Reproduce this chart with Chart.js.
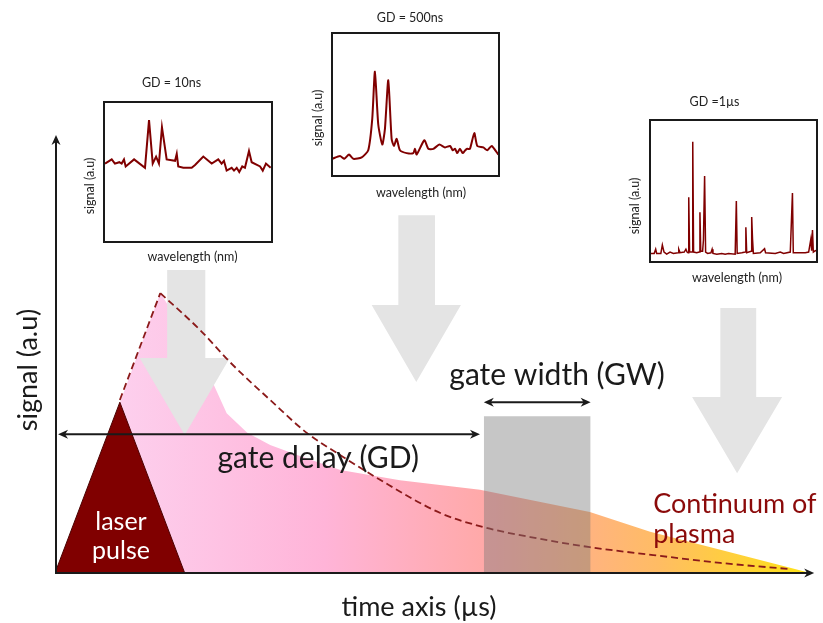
<!DOCTYPE html>
<html>
<head>
<meta charset="utf-8">
<script src="https://cdn.jsdelivr.net/npm/chart.js@4"></script>
<style>
  html, body { margin: 0; padding: 0; background: #fff; }
  #wrap { position: relative; width: 823px; height: 623px; }
  #wrap canvas { position: absolute; }
</style>
</head>
<body>
<div id="wrap">
  <canvas id="main" width="823" height="623" style="left:0;top:0"></canvas>
  <canvas id="gd10" width="204" height="200" style="left:74px;top:70px"></canvas>
  <canvas id="gd500" width="200" height="197" style="left:305px;top:3px"></canvas>
  <canvas id="gd1us" width="201" height="198" style="left:622px;top:88px"></canvas>
</div>
<script>
// ===== Time-resolved emission (arbitrary units, time 0..100) =====
const laserT = [0, 8.5, 17];
const laserS = [0, 39, 0];

const plasmaT = [8.5, 13.8, 17.7, 20.7, 22.5, 25.2, 28.2, 32.1, 37.4, 45.2, 55.7, 70.1, 78.0, 87.2, 99.0];
const plasmaS = [38.8, 63.9, 53.2, 43.4, 36.5, 32.0, 29.2, 26.7, 23.5, 21.2, 19.0, 13.9, 9.4, 5.3, 0];

const decayT = [8.5, 13.8, 19.0, 22.9, 28.2, 33.0, 37.4, 42.2, 50.5, 56.1, 62.3, 70.1, 78.4, 87.2, 96.3];
const decayS = [39.5, 63.9, 55.5, 48.2, 39.5, 32.0, 26.9, 21.7, 13.7, 10.5, 8.2, 5.9, 4.1, 2.3, 0.9];

const gateT = [56.2, 70.2];
const gateS = 35.8;

// ===== Spectra at three gate delays (wavelength index 0..100) =====
const spec10X = [0.6, 4.6, 6.5, 9.1, 10.5, 11.9, 12.9, 17.9, 24.4, 26.8, 29.0, 31.0, 32.7, 34.5, 37.3, 42.3, 43.3, 44.2, 47.2, 52.2, 54.2, 59.1, 64.1, 68.0, 70.0, 71.4, 73.0, 76.0, 77.4, 79.0, 80.5, 82.3, 83.9, 86.3, 87.9, 92.9, 94.5, 96.4, 99.2];
const spec10Y = [56, 59, 56, 57, 56, 59, 54, 59, 53, 87, 56, 61, 56, 82, 59, 58, 63, 54, 53, 53, 55, 61, 56, 59, 56, 58, 51, 53, 51, 53, 50, 54, 53, 65, 57, 54, 51, 56, 53];

const spec500X = [0.2, 4.8, 7.4, 10.2, 12.8, 17.8, 21.7, 24.1, 25.7, 27.7, 30.1, 31.7, 33.7, 35.7, 37.1, 38.7, 40.7, 44.7, 48.7, 49.7, 50.7, 55.3, 57.7, 60.7, 64.3, 67.7, 70.7, 72.3, 73.7, 75.0, 76.6, 78.3, 79.8, 81.0, 82.6, 85.2, 87.0, 90.6, 93.0, 95.6, 99.6];
const spec500Y = [12, 14, 12, 15, 12, 13, 18, 40, 73, 36, 22, 33, 67, 26, 21, 26, 18, 16, 16, 19, 15, 25, 19, 19, 22, 20, 21, 18, 19, 16, 19, 16, 18, 19, 19, 30, 21, 20, 18, 21, 15];

const spec1usX = [0, 2.5, 3.4, 4, 6.5, 7.4, 8.4, 10, 12, 14, 16.8, 17.2, 18, 20.5, 21.5, 22.2, 22.8, 23.2, 23.7, 25.2, 25.6, 26.1, 28, 29.5, 29.9, 30.4, 31.5, 32, 32.7, 33.3, 34.5, 36.5, 37.2, 37.7, 40, 43, 45, 47, 51, 51.7, 52.2, 55, 57, 57.4, 57.9, 60.5, 60.9, 61.4, 61.9, 66, 68.6, 69.2, 75, 78, 80, 84, 85.3, 85.8, 93, 95, 96.3, 96.8, 97.3, 97.8, 99, 100];
const spec1usY = [6, 6, 9, 6, 6, 12, 7, 5.5, 7, 6, 6.5, 9, 6.5, 7, 9, 7, 6.5, 45.6, 7, 7, 84.7, 7, 6.5, 7, 35, 7.5, 7.5, 15.5, 60.6, 7, 6, 6.5, 9, 6, 5.5, 6, 5.5, 6, 5.5, 43, 6, 6.5, 7, 24.4, 6.5, 7.5, 31.7, 16, 6, 6.5, 9.4, 6.5, 6, 7, 6, 7, 48.6, 6.5, 6.5, 7, 16, 8, 22.5, 7, 8, 7.5];

const FONT = "Lato, 'Open Sans', sans-serif";
const DARK_RED = "#800000";
const INK = "#1a1a1a";

function pts(xs, ys) {
  return xs.map((x, i) => ({ x, y: ys[i] }));
}

// small LaTeX-like arrow tip
function arrowHead(ctx, x, y, ang, len = 10, half = 4.5) {
  ctx.save();
  ctx.translate(x, y);
  ctx.rotate(ang);
  ctx.beginPath();
  ctx.moveTo(0, 0);
  ctx.lineTo(-len, -half);
  ctx.lineTo(-len * 0.7, 0);
  ctx.lineTo(-len, half);
  ctx.closePath();
  ctx.fill();
  ctx.restore();
}

function hArrow(ctx, x0, x1, y, both) {
  ctx.beginPath();
  ctx.moveTo(both ? x0 + 6 : x0, y);
  ctx.lineTo(x1 - 6, y);
  ctx.stroke();
  arrowHead(ctx, x1, y, 0);
  if (both) arrowHead(ctx, x0, y, Math.PI);
}

// big light-grey "look here" arrows, in data units
const blockArrows = [
  { x0: 14.7, x1: 19.7, top: 69.2, neck: 49.1, h0: 11.1, h1: 22.9, tip: 31.5 },
  { x0: 45.0, x1: 49.8, top: 81.7, neck: 61.2, h0: 41.5, h1: 53.2, tip: 43.6 },
  { x0: 87.2, x1: 91.9, top: 60.5, neck: 40.2, h0: 83.5, h1: 95.3, tip: 22.8 },
];

const diagram = {
  id: "diagram",
  afterDatasetDraw(chart, args) {
    if (args.index !== 0) return; // right after the continuum fill
    const { ctx } = chart;
    const X = (v) => chart.scales.x.getPixelForValue(v);
    const Y = (v) => chart.scales.y.getPixelForValue(v);
    ctx.save();
    ctx.fillStyle = "#e4e4e4";
    blockArrows.forEach((a) => {
      ctx.beginPath();
      ctx.moveTo(X(a.x0), Y(a.top));
      ctx.lineTo(X(a.x1), Y(a.top));
      ctx.lineTo(X(a.x1), Y(a.neck));
      ctx.lineTo(X(a.h1), Y(a.neck));
      ctx.lineTo(X((a.h0 + a.h1) / 2), Y(a.tip));
      ctx.lineTo(X(a.h0), Y(a.neck));
      ctx.lineTo(X(a.x0), Y(a.neck));
      ctx.closePath();
      ctx.fill();
    });
    ctx.restore();
  },
  afterDraw(chart) {
    const { ctx, chartArea: area } = chart;
    const X = (v) => chart.scales.x.getPixelForValue(v);
    const Y = (v) => chart.scales.y.getPixelForValue(v);
    ctx.save();
    ctx.strokeStyle = INK;
    ctx.fillStyle = INK;
    ctx.lineWidth = 2;

    // axes
    const ax = area.left + 1;
    ctx.beginPath();
    ctx.moveTo(ax, area.bottom + 1);
    ctx.lineTo(ax, area.top + 6);
    ctx.stroke();
    arrowHead(ctx, ax, area.top, -Math.PI / 2);
    hArrow(ctx, area.left, X(99.5), area.bottom, false);

    // gate delay / gate width arrows
    hArrow(ctx, X(0.4), X(55.7), Y(31.7), true);
    hArrow(ctx, X(gateT[0]), X(gateT[1]), Y(39.0), true);

    ctx.textAlign = "center";
    ctx.textBaseline = "alphabetic";
    ctx.font = "30px " + FONT;
    ctx.fillText("gate delay (GD)", X(34.5), Y(24.0));
    ctx.fillText("gate width (GW)", X(65.8), Y(42.9));

    ctx.font = "27px " + FONT;
    ctx.fillText("time axis (µs)", 419, area.bottom + 43);
    ctx.save();
    ctx.translate(28, 370);
    ctx.rotate(-Math.PI / 2);
    ctx.textBaseline = "middle";
    ctx.fillText("signal (a.u)", 0, 0);
    ctx.restore();

    ctx.fillStyle = "#fff";
    ctx.font = "25px " + FONT;
    ctx.fillText("laser", X(8.65), Y(9.8));
    ctx.fillText("pulse", X(8.65), Y(3.2));

    ctx.fillStyle = "#8b0a0a";
    ctx.textAlign = "left";
    ctx.font = "27px " + FONT;
    ctx.fillText("Continuum of", X(78.4), Y(13.7));
    ctx.fillText("plasma", X(78.4), Y(6.8));
    ctx.restore();
  },
};

function plasmaGradient(c) {
  const chart = c.chart;
  if (!chart.chartArea) return "#ffb0d0";
  const x = chart.scales.x;
  const g = chart.ctx.createLinearGradient(x.getPixelForValue(8), 0, x.getPixelForValue(99), 0);
  g.addColorStop(0.0, "#fdd0ee");
  g.addColorStop(0.3, "#ffb4d8");
  g.addColorStop(0.55, "#ffa8a4");
  g.addColorStop(0.78, "#ffbc64");
  g.addColorStop(1.0, "#ffe414");
  return g;
}

const peak = decayS.indexOf(Math.max(...decayS));
const dashed = { borderColor: "#8b1a1a", borderWidth: 1.8, borderDash: [7, 4], pointRadius: 0, fill: false, order: 3 };

new Chart(document.getElementById("main"), {
  type: "line",
  data: {
    datasets: [
      { data: pts(plasmaT, plasmaS), fill: "origin", backgroundColor: plasmaGradient, borderWidth: 0, pointRadius: 0, tension: 0, order: 6 },
      { data: pts(laserT, laserS), fill: "origin", backgroundColor: DARK_RED, borderColor: "#4a0000", borderWidth: 1, pointRadius: 0, tension: 0, order: 5 },
      Object.assign({ data: pts(decayT.slice(0, peak + 1), decayS.slice(0, peak + 1)), tension: 0 }, dashed),
      Object.assign({ data: pts(decayT.slice(peak), decayS.slice(peak)), cubicInterpolationMode: "monotone" }, dashed),
      {
        data: [
          { x: gateT[0], y: 0 }, { x: gateT[0], y: gateS },
          { x: gateT[1], y: gateS }, { x: gateT[1], y: 0 },
        ],
        fill: "origin", backgroundColor: "rgba(120,120,120,0.42)", borderWidth: 0, pointRadius: 0, tension: 0, order: 2,
      },
    ],
  },
  options: {
    responsive: false,
    animation: false,
    devicePixelRatio: 1,
    layout: { padding: { left: 55, top: 135, right: 5, bottom: 50 } },
    scales: {
      x: { type: "linear", min: 0, max: 100, display: false },
      y: { type: "linear", min: 0, max: 100, display: false },
    },
    plugins: { legend: { display: false }, tooltip: { enabled: false } },
  },
  plugins: [diagram],
});

// ===== Inset spectra =====
function insetChart(id, xs, ys, o) {
  const frame = {
    id: "frame",
    afterDraw(chart) {
      const { ctx, chartArea: a } = chart;
      ctx.save();
      ctx.strokeStyle = INK;
      ctx.lineWidth = 2;
      ctx.strokeRect(a.left, a.top, a.right - a.left, a.bottom - a.top);
      ctx.fillStyle = "#222";
      ctx.font = "12.5px " + FONT;
      ctx.textAlign = "center";
      ctx.textBaseline = "middle";
      ctx.fillText(o.title, a.left + o.t[0], a.top + o.t[1]);
      ctx.fillText("wavelength (nm)", a.left + o.xl[0], a.bottom + o.xl[1]);
      ctx.translate(a.left + o.yl[0], a.top + o.yl[1]);
      ctx.rotate(-Math.PI / 2);
      ctx.fillText("signal (a.u)", 0, 0);
      ctx.restore();
    },
  };
  return new Chart(document.getElementById(id), {
    type: "line",
    data: {
      datasets: [{ data: pts(xs, ys), borderColor: DARK_RED, borderWidth: o.width, pointRadius: 0, tension: o.tension, fill: false }],
    },
    options: {
      responsive: false,
      animation: false,
      devicePixelRatio: 1,
      layout: { padding: o.pad },
      scales: {
        x: { type: "linear", min: 0, max: 100, display: false },
        y: { type: "linear", min: 0, max: 100, display: false },
      },
      plugins: { legend: { display: false }, tooltip: { enabled: false } },
    },
    plugins: [frame],
  });
}

insetChart("gd10", spec10X, spec10Y, {
  title: "GD = 10ns", width: 2, tension: 0,
  pad: { left: 30, top: 32, right: 6, bottom: 28 },
  t: [67.5, -19], xl: [88.5, 14.7], yl: [-14, 84],
});
insetChart("gd500", spec500X, spec500Y, {
  title: "GD = 500ns", width: 2, tension: 0.2,
  pad: { left: 27, top: 30, right: 6, bottom: 24 },
  t: [78, -15], xl: [89, 17], yl: [-14, 85],
});
insetChart("gd1us", spec1usX, spec1usY, {
  title: "GD =1µs", width: 1.5, tension: 0,
  pad: { left: 28, top: 32, right: 6, bottom: 24 },
  t: [64.5, -18.3], xl: [87, 16], yl: [-15, 86],
});
</script>
</body>
</html>
